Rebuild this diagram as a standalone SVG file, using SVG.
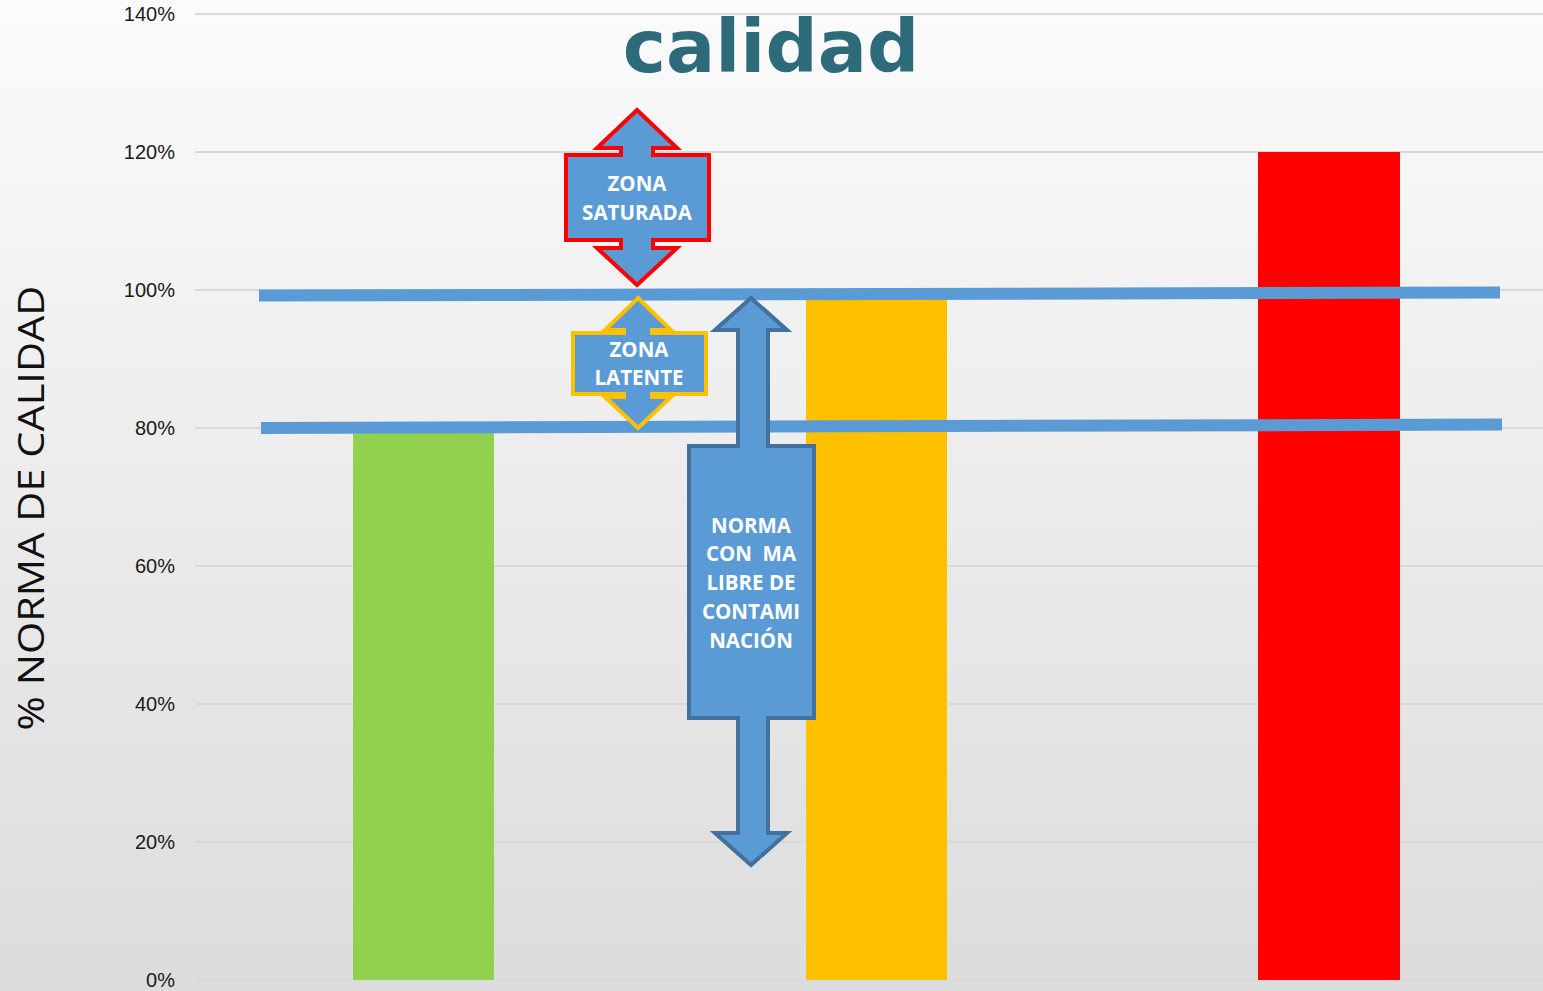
<svg xmlns="http://www.w3.org/2000/svg" width="1543" height="991" viewBox="0 0 1543 991">
<defs>
<linearGradient id="bg" x1="0" y1="0" x2="0" y2="1">
<stop offset="0" stop-color="#fbfbfb"/>
<stop offset="1" stop-color="#dcdcdc"/>
</linearGradient>
<style>
.grid{stroke:#d9d9d9;stroke-width:2;fill:none}
.tick{font-family:"Liberation Sans",Arial,sans-serif;font-size:20px;fill:#1a1a1a;text-anchor:end}
.lvl{stroke:#5b9bd5;stroke-width:12;stroke-linecap:butt;fill:none}
.lbl{font-family:"Open Sans","Liberation Sans",sans-serif;font-weight:bold;font-size:20.5px;fill:#ffffff;text-anchor:middle}
.arrow{fill:#5b9bd5;stroke-width:4;stroke-linejoin:miter}
</style>
</defs>
<rect x="0" y="0" width="1543" height="991" fill="url(#bg)"/>
<g id="grid">
<line class="grid" x1="195" y1="14" x2="1543" y2="14"/>
<line class="grid" x1="195" y1="152" x2="1543" y2="152"/>
<line class="grid" x1="195" y1="290" x2="1543" y2="290"/>
<line class="grid" x1="195" y1="428" x2="1543" y2="428"/>
<line class="grid" x1="195" y1="566" x2="1543" y2="566"/>
<line class="grid" x1="195" y1="704" x2="1543" y2="704"/>
<line class="grid" x1="195" y1="842" x2="1543" y2="842"/>
<line class="grid" x1="195" y1="980" x2="1543" y2="980"/>
</g>
<g id="ticks">
<text class="tick" x="175" y="21">140%</text>
<text class="tick" x="175" y="159">120%</text>
<text class="tick" x="175" y="297">100%</text>
<text class="tick" x="175" y="435">80%</text>
<text class="tick" x="175" y="573">60%</text>
<text class="tick" x="175" y="711">40%</text>
<text class="tick" x="175" y="849">20%</text>
<text class="tick" x="175" y="987">0%</text>
</g>
<text id="ytitle" transform="translate(44,508) rotate(-90)" text-anchor="middle" font-family="'Open Sans','Liberation Sans',sans-serif" font-size="37" fill="#111" textLength="445" lengthAdjust="spacingAndGlyphs">% NORMA DE CALIDAD</text>
<text id="title" x="771" y="72" text-anchor="middle" font-family="'DejaVu Sans',sans-serif" font-weight="bold" font-size="73" fill="#2e6b7a">calidad</text>
<g id="bars">
<rect id="bar-green" x="353" y="432" width="141" height="548" fill="#92d050"/>
<rect id="bar-orange" x="806" y="298" width="141" height="682" fill="#ffc000"/>
<rect id="bar-red" x="1258" y="152" width="142" height="828" fill="#ff0000"/>
</g>
<g id="connectors">
<line class="lvl" x1="259" y1="295.5" x2="1500" y2="292.5"/>
<line class="lvl" x1="261" y1="428" x2="1502" y2="424.5"/>
</g>
<g id="zona-saturada">
<path class="arrow" stroke="#ff0000" d="M637,110 L677,148 L653,148 L653,155 L709,155 L709,240 L653,240 L653,248 L677,248 L637,285 L597,248 L621,248 L621,240 L566,240 L566,155 L621,155 L621,148 L597,148 Z"/>
<text class="lbl" x="637" y="191">ZONA</text>
<text class="lbl" x="637" y="220">SATURADA</text>
</g>
<g id="zona-latente">
<path class="arrow" stroke="#ffc000" d="M638,298 L671,330 L652,330 L652,333 L706,333 L706,394 L652,394 L652,397 L671,397 L638,428 L605,397 L624,397 L624,394 L573,394 L573,333 L624,333 L624,330 L605,330 Z"/>
<text class="lbl" x="639" y="357">ZONA</text>
<text class="lbl" x="639" y="385">LATENTE</text>
</g>
<g id="norma">
<path class="arrow" stroke="#41719c" d="M751,298 L787,330 L768,330 L768,446 L814,446 L814,718 L768,718 L768,833 L787,833 L751,865 L715,833 L738,833 L738,718 L689,718 L689,446 L738,446 L738,330 L715,330 Z"/>
<text class="lbl" x="751" y="533">NORMA</text>
<text class="lbl" x="751" y="561" xml:space="preserve">CON  MA</text>
<text class="lbl" x="751" y="590">LIBRE DE</text>
<text class="lbl" x="751" y="619">CONTAMI</text>
<text class="lbl" x="751" y="648">NACIÓN</text>
</g>
</svg>
